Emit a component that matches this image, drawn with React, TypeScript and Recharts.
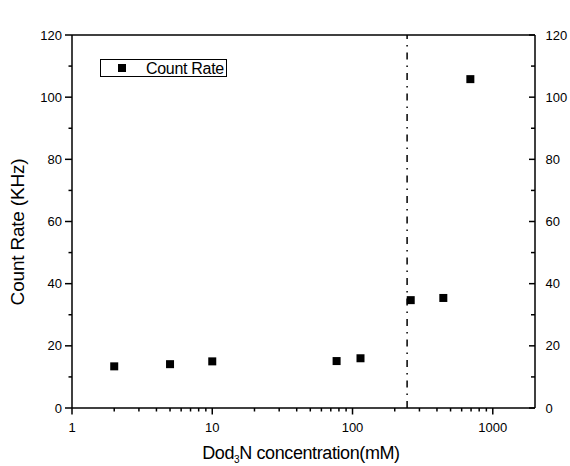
import { Legend, ReferenceLine, Scatter, ScatterChart, XAxis, YAxis } from "recharts";

const concentration = [2, 5, 10, 77, 114, 260, 444, 692];
const countRate = [13.4, 14.1, 15.0, 15.1, 16.0, 34.7, 35.4, 105.8];
const xMajorTicks = [1, 10, 100, 1000];
const xMinorTicks = [2, 3, 4, 5, 6, 7, 8, 9, 20, 30, 40, 50, 60, 70, 80, 90, 200, 300, 400, 500, 600, 700, 800, 900];
const yMajorTicks = [0, 20, 40, 60, 80, 100, 120];
const yMinorTicks = [10, 30, 50, 70, 90, 110];
const thresholdConcentration = 245;
const seriesName = "Count Rate";

const data = concentration.map((c, i) => ({ concentration: c, rate: countRate[i] }));
const xTicks = [...xMajorTicks, ...xMinorTicks].sort((a, b) => a - b);
const yTicks = [...yMajorTicks, ...yMinorTicks].sort((a, b) => a - b);

const FONT = "'Liberation Sans', Arial, sans-serif";
const axisLine = { stroke: "#000", strokeWidth: 1.5 };
const TICK_W = 1.5;

// tickSize/tickMargin are 0, so x/y handed to the tick is the axis line itself.
// bottom ticks point out, top ticks point in: both go downwards
function xTick(side: "bottom" | "top") {
  return (props: any) => {
    const x = Number(props.x);
    const y = Number(props.y);
    const major = xMajorTicks.includes(props.payload.value);
    const len = major ? 6.5 : 3.5;
    return (
      <g>
        <path d={`M${x},${y}L${x},${y + len}`} stroke="#000" strokeWidth={TICK_W} fill="none" />
        {major && (
          <text x={x} y={side === "bottom" ? y + 24 : y - 11.5} textAnchor="middle" fontSize={13} fill="#000" fontFamily={FONT}>
            {props.payload.value}
          </text>
        )}
      </g>
    );
  };
}

// left ticks point out, right ticks point in: both go leftwards
function yTick(side: "left" | "right") {
  return (props: any) => {
    const x = Number(props.x);
    const y = Number(props.y);
    const major = yMajorTicks.includes(props.payload.value);
    const len = side === "left" ? (major ? 7 : 3.5) : major ? 6 : 4;
    return (
      <g>
        <path d={`M${x},${y}L${x - len},${y}`} stroke="#000" strokeWidth={TICK_W} fill="none" />
        {major && (
          <text
            x={side === "left" ? x - 10 : x + 10.5}
            y={y + 4.6}
            textAnchor={side === "left" ? "end" : "start"}
            fontSize={13}
            fill="#000"
            fontFamily={FONT}
          >
            {props.payload.value}
          </text>
        )}
      </g>
    );
  };
}

function SquareDot(props: any) {
  const { cx, cy } = props;
  return <rect x={cx - 4} y={cy - 4} width={8} height={8} fill="#000" />;
}

function LegendBox() {
  return (
    <div
      style={{
        width: 125,
        height: 16,
        border: "1px solid #000",
        background: "#fff",
        position: "relative",
        fontFamily: FONT,
        fontSize: 16,
        letterSpacing: -0.3,
        lineHeight: "17px",
      }}
    >
      <div style={{ position: "absolute", left: 17, top: 4, width: 8, height: 8, background: "#000" }} />
      <span style={{ position: "absolute", left: 45, top: 0 }}>{seriesName}</span>
    </div>
  );
}

export default function App() {
  return (
    <div style={{ position: "absolute", left: 0, top: 0, width: 570, height: 466, background: "#fff" }}>
      <ScatterChart width={570} height={466} margin={{ top: 0, right: 0, bottom: 0, left: 0 }}>
        <XAxis
          xAxisId="bottom"
          orientation="bottom"
          type="number"
          dataKey="concentration"
          scale="log"
          domain={[1, 2000]}
          allowDataOverflow
          ticks={xTicks}
          interval={0}
          tickSize={0}
          tickMargin={0}
          tickLine={false}
          tick={xTick("bottom")}
          axisLine={axisLine}
          height={58}
        />
        <XAxis
          xAxisId="top"
          orientation="top"
          type="number"
          scale="log"
          domain={[1, 2000]}
          allowDataOverflow
          ticks={xTicks}
          interval={0}
          tickSize={0}
          tickMargin={0}
          tickLine={false}
          tick={xTick("top")}
          axisLine={axisLine}
          height={35}
        />
        <YAxis
          yAxisId="left"
          type="number"
          dataKey="rate"
          domain={[0, 120]}
          allowDataOverflow
          ticks={yTicks}
          interval={0}
          tickSize={0}
          tickMargin={0}
          tickLine={false}
          tick={yTick("left")}
          axisLine={axisLine}
          width={72}
        />
        <YAxis
          yAxisId="right"
          orientation="right"
          type="number"
          domain={[0, 120]}
          allowDataOverflow
          ticks={yTicks}
          interval={0}
          tickSize={0}
          tickMargin={0}
          tickLine={false}
          tick={yTick("right")}
          axisLine={axisLine}
          width={35}
        />
        <ReferenceLine
          x={thresholdConcentration}
          xAxisId="bottom"
          yAxisId="left"
          stroke="#000"
          strokeWidth={1.5}
          strokeDasharray="7 6 1.5 6"
        />
        <Scatter
          name={seriesName}
          data={data}
          xAxisId="bottom"
          yAxisId="left"
          fill="#000"
          shape={SquareDot}
          isAnimationActive={false}
        />
        <Legend
          layout="horizontal"
          verticalAlign="middle"
          content={LegendBox}
          wrapperStyle={{ position: "absolute", left: 100, top: 59, width: "auto" }}
        />
      </ScatterChart>
      <svg width={570} height={466} style={{ position: "absolute", left: 0, top: 0, pointerEvents: "none" }}>
        <text x={301} y={459} textAnchor="middle" fontSize={18} letterSpacing={-0.4} fontFamily={FONT} fill="#000">
          Dod
          <tspan dy={4} fontSize={10}>3</tspan>
          <tspan dy={-4}>N concentration(mM)</tspan>
        </text>
        <text
          x={24}
          y={232}
          transform="rotate(-90 24 232)"
          textAnchor="middle"
          fontSize={19}
          letterSpacing={-0.2}
          fontFamily={FONT}
          fill="#000"
        >
          Count Rate (KHz)
        </text>
      </svg>
    </div>
  );
}
